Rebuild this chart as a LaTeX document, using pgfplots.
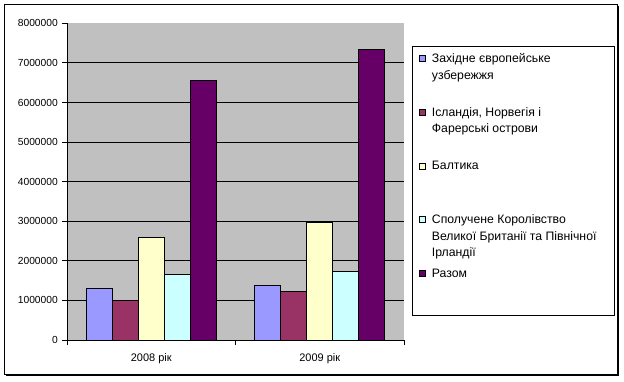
\documentclass[border=0pt]{standalone}
\usepackage{pgfplots}
\pgfplotsset{compat=1.18}
\usepackage{fontspec}
\setmainfont{Liberation Sans}
\definecolor{c1}{HTML}{9999FF}
\definecolor{c2}{HTML}{993366}
\definecolor{c3}{HTML}{FFFFCC}
\definecolor{c4}{HTML}{CCFFFF}
\definecolor{c5}{HTML}{660066}
\definecolor{plotbg}{HTML}{C0C0C0}
\begin{document}
\begin{tikzpicture}[x=1bp,y=1bp]
\fill[white] (0,0) rectangle (624,381);
% outer frame with shadow
\draw[line width=1bp] (4.5,376.5) rectangle (617,6.5);
\draw[line width=1.2bp] (618.2,375) -- (618.2,5.3) -- (6,5.3);
\begin{axis}[
  at={(67bp,41bp)}, anchor=south west,
  scale only axis, width=337bp, height=316.7bp,
  axis lines*=left,
  axis line style={line width=0.9bp},
  axis background/.style={fill=plotbg},
  xmin=-0.5, xmax=1.5, ymin=0, ymax=8000000,
  xtick={-0.5,0.5,1.5},
  xticklabels={2008 рік, 2009 рік},
  x tick label as interval,
  ytick={0,1000000,2000000,3000000,4000000,5000000,6000000,7000000},
  extra y ticks={8000000},
  extra y tick style={grid=none},
  ymajorgrids,
  major grid style={black, line width=0.9bp},
  tick align=outside,
  major tick length=5bp,
  tick style={black, line width=0.9bp},
  scaled y ticks=false,
  yticklabel style={/pgf/number format/fixed, /pgf/number format/precision=0, /pgf/number format/1000 sep={}, font=\fontsize{10.3}{12}\selectfont, inner sep=1.5bp, xshift=-2.5bp},
  xticklabel style={font=\fontsize{11}{13}\selectfont, yshift=-5bp},
  /pgf/number format/assume math mode=true,
  ybar=0pt, bar width=26bp,
  every axis plot/.append style={draw=black, line width=0.8bp},
]
\addplot[fill=c1] coordinates {(0,1305000) (1,1380000)};
\addplot[fill=c2] coordinates {(0,1000000) (1,1230000)};
\addplot[fill=c3] coordinates {(0,2590000) (1,2980000)};
\addplot[fill=c4] coordinates {(0,1660000) (1,1735000)};
\addplot[fill=c5] coordinates {(0,6560000) (1,7330000)};
\end{axis}
% legend
\draw[line width=1bp, fill=white] (412.3,334.3) rectangle (614,66);
\begin{scope}[every node/.style={anchor=base west, inner sep=0pt, font=\fontsize{12.3}{14}\selectfont}]
\foreach \b/\c in {62.3/c1, 116/c2, 169.8/c3, 223.5/c4, 277.3/c5}{
  \draw[line width=0.7bp, fill=\c] (419.3,{381-\b+0.9}) rectangle (425.3,{381-\b+6.9});
}
\node at (431.7,{381-62.3}) {Західне європейське};
\node at (431.7,{381-79}) {узбережжя};
\node at (431.7,{381-116}) {Ісландія, Норвегія і};
\node at (431.7,{381-132.7}) {Фарерські острови};
\node at (431.7,{381-169.8}) {Балтика};
\node at (431.7,{381-223.5}) {Сполучене Королівство};
\node at (431.7,{381-240.2}) {Великої Британії та Північної};
\node at (431.7,{381-256.9}) {Ірландії};
\node at (431.7,{381-277.3}) {Разом};
\end{scope}
\end{tikzpicture}
\end{document}
